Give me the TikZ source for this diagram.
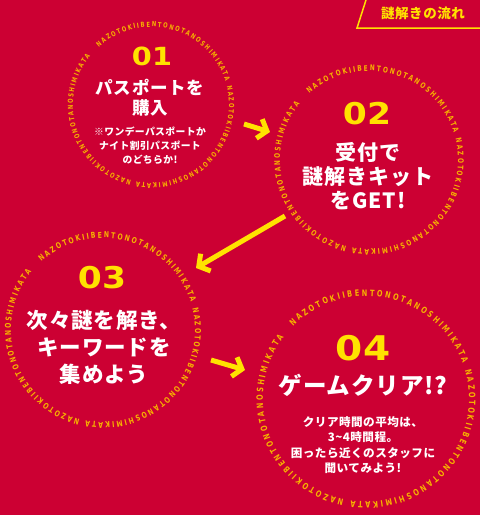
\documentclass[tikz,border=0pt]{standalone}
\usepackage{fontspec}
\newfontfamily\jpfont{Noto Sans CJK JP}[LetterSpace=4]
\newfontfamily\numfont{DejaVu Sans}[FakeStretch=1.15]
\newfontfamily\ringfont{DejaVu Sans}[FakeStretch=0.75]
\newcommand\ringa{\ringfont\bfseries\fontsize{7}{7}\selectfont}
\newcommand\ringb{\ringfont\bfseries\fontsize{7.8}{7.8}\selectfont}
\newcommand\ringc{\ringfont\bfseries\fontsize{8.2}{8.2}\selectfont}
\newcommand\ringd{\ringfont\bfseries\fontsize{8.8}{8.8}\selectfont}
\usetikzlibrary{arrows.meta,decorations.text}

\definecolor{bgred}{RGB}{204,0,51}
\definecolor{numyellow}{RGB}{255,226,0}
\definecolor{ringorange}{RGB}{246,178,0}

\begin{document}
\begin{tikzpicture}%
[x=1pt, y=1pt,%
num/.style={text=numyellow, inner sep=0pt, font=\numfont\bfseries\fontsize{#1}{#1}\selectfont},%
head/.style 2 args={text=white, align=center, inner sep=0pt, font=\jpfont\bfseries\fontsize{#1}{#2}\selectfont},%
ring/.style={decorate, decoration={text along path, text align=fit to path, text color=ringorange,%
  text={|#1|NAZOTOKIIBENTONOTANOSHIMIKATA NAZOTOKIIBENTONOTANOSHIMIKATA NAZOTOKIIBENTONOTANOSHIMIKATA}}},%
flow/.style={draw=numyellow, line width=5pt, line join=miter,%
  -{Straight Barb[length=8pt, width=20pt]}},%
tabline/.style={draw=numyellow, line width=1.5pt}]

\useasboundingbox (0,0) rectangle (480,-515);
\fill[bgred] (0,0) rectangle (480,-515);

% tab
\coordinate (tabA) at (366,0);
\coordinate (tabB) at (357,-28);
\coordinate (tabC) at (481,-28);
\draw[tabline] (tabA) -- (tabB) -- (tabC);
\node[text=numyellow, font=\jpfont\bfseries\fontsize{13.5}{13.5}\selectfont] (tab) at (423,-13) {謎解きの流れ};

% circles
\coordinate (c1) at (151,-105);
\coordinate (c2) at (369,-160);
\coordinate (c3) at (103,-330);
\coordinate (c4) at (366,-399);

\path[ring=\ringa] ([shift={(132:78)}]c1) arc[start angle=132, delta angle=-351, radius=78];
\path[ring=\ringb] ([shift={(132:89)}]c2) arc[start angle=132, delta angle=-351, radius=89];
\path[ring=\ringc] ([shift={(132:92)}]c3) arc[start angle=132, delta angle=-351, radius=92];
\path[ring=\ringd] ([shift={(135:103)}]c4) arc[start angle=135, delta angle=-352, radius=103];

% 01
\node[num=25] (n1) at (152,-56) {01};
\node[head={17.5}{20}] (t1) at (150,-98) {パスポートを\\購入};
\node[head={9.8}{14}] (s1) at (150,-146) {※ワンデーパスポートか\\ナイト割引パスポート\\のどちらか!};

% 02
\node[num=30] (n2) at (367,-114) {02};
\node[head={21}{24}] (t2) at (368,-176) {受付で\\謎解きキット\\をGET!};

% 03
\node[num=30] (n3) at (102,-278) {03};
\node[head={21.5}{27}] (t3) at (104,-347) {次々謎を解き、\\キーワードを\\集めよう};

% 04
\node[num=34] (n4) at (363,-348) {04};
\node[head={23.5}{23.5}] (t4) at (363,-385) {ゲームクリア!?};
\node[head={11.6}{15.2}] (s4) at (363,-445) {クリア時間の平均は、\\3\textasciitilde4時間程。\\困ったら近くのスタッフに\\聞いてみよう!};

% arrows
\coordinate (a1s) at (244,-124);
\coordinate (a1e) at (270,-132);
\coordinate (a2s) at (285,-216);
\coordinate (a2e) at (196,-268);
\coordinate (a3s) at (211,-360);
\coordinate (a3e) at (245,-370);
\draw[flow] (a1s) -- (a1e);
\draw[flow] (a2s) -- (a2e);
\draw[flow] (a3s) -- (a3e);
\end{tikzpicture}
\end{document}
